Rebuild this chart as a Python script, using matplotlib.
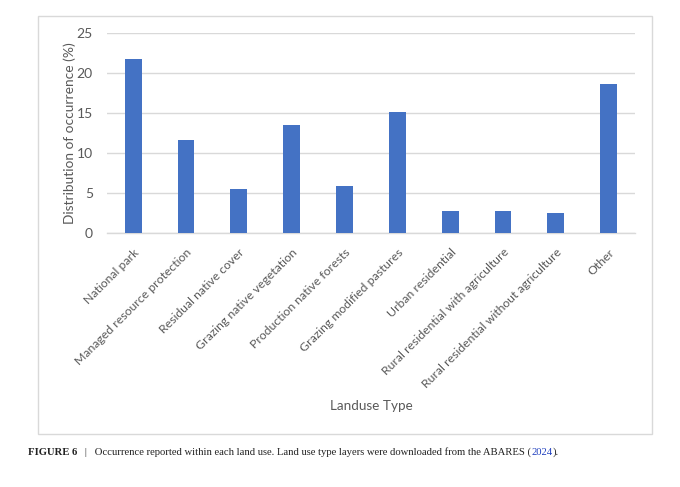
import matplotlib.pyplot as plt
from matplotlib.patches import Rectangle

categories = ['National park', 'Managed resource protection', 'Residual native cover',
              'Grazing native vegetation', 'Production native forests',
              'Grazing modified pastures', 'Urban residential',
              'Rural residential with agriculture', 'Rural residential without agriculture',
              'Other']
values = [21.7, 11.6, 5.45, 13.45, 5.9, 15.15, 2.75, 2.75, 2.5, 18.65]
yticks = [0, 5, 10, 15, 20, 25]

plt.rcParams['font.family'] = ['Lato', 'DejaVu Sans']
gray = '#595959'
grid = '#d9d9d9'

fig = plt.figure(figsize=(6.8, 4.87), dpi=100)
ax = fig.add_axes([0.157, 0.522, 0.777, 0.41])

x = range(len(categories))
ax.bar(x, values, width=0.32, color='#4472c4', zorder=3)

ax.set_ylim(0, 25)
ax.set_xlim(-0.5, len(categories) - 0.5)
ax.set_yticks(yticks)
ax.yaxis.grid(True, color=grid, linewidth=1, zorder=0)
for s in ['top', 'right', 'left']:
    ax.spines[s].set_visible(False)
ax.spines['bottom'].set_color(grid)
ax.spines['bottom'].set_linewidth(1)
ax.tick_params(length=0, labelsize=10, colors=gray)
ax.tick_params(axis='y', pad=10)
ax.set_xticks(list(x))
ax.set_xticklabels(categories, rotation=45, ha='right', va='top',
                   rotation_mode='anchor', fontsize=8.8)
ax.tick_params(axis='x', pad=10)

ax.set_ylabel('Distribution of occurrence (%)', fontsize=9.9, color=gray, labelpad=0.5)
ax.set_xlabel('Landuse Type', fontsize=9.7, color=gray)
ax.xaxis.set_label_coords(0.5, -0.87)
ax.xaxis.label.set_va('center')

# chart frame
fig.patches.append(Rectangle((0.056, 0.109), 0.903, 0.858, transform=fig.transFigure,
                             fill=False, edgecolor=grid, linewidth=1))

# caption
cap_font = ['Liberation Serif', 'DejaVu Serif']
fs = 7.65
t1 = fig.text(0.041, 0.066, 'FIGURE 6', fontsize=fs, fontweight='bold', family=cap_font,
              color='#222222')
t2 = ax.annotate('   |   Occurrence reported within each land use. Land use type layers were downloaded from the ABARES (',
                 xy=(1, 0), xycoords=t1, va='bottom', fontsize=fs, family=cap_font,
                 color='#222222', annotation_clip=False)
t3 = ax.annotate('2024', xy=(1, 0), xycoords=t2, va='bottom', fontsize=fs, family=cap_font,
                 color='#1f3fbf', annotation_clip=False)
t4 = ax.annotate(').', xy=(1, 0), xycoords=t3, va='bottom', fontsize=fs, family=cap_font,
                 color='#222222', annotation_clip=False)

fig.savefig('out.png', dpi=100)
